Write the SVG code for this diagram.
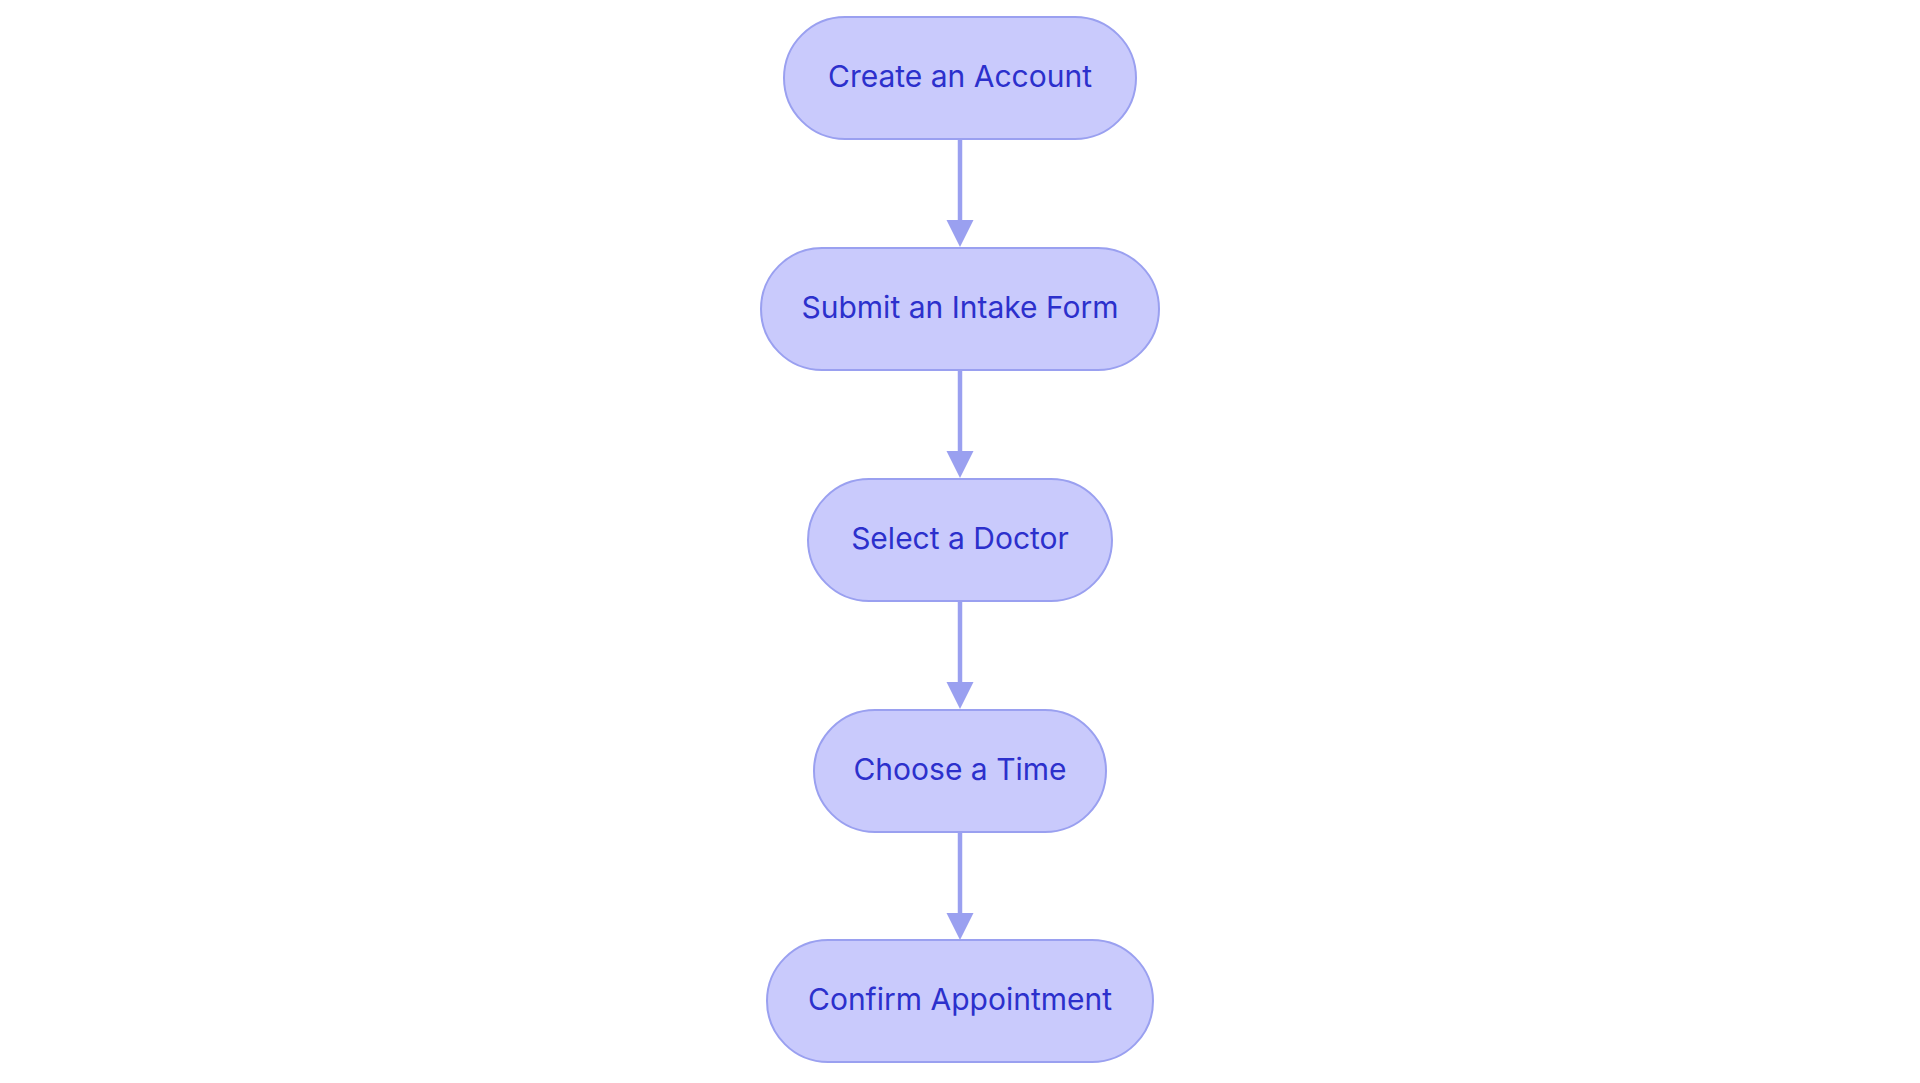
<svg xmlns="http://www.w3.org/2000/svg" width="1920" height="1083" viewBox="0 0 1920 1083">
<defs>
<style>
.node rect{fill:#c9cafc;stroke:#9aa0f0;stroke-width:2}
.node text{font-family:Inter,"Liberation Sans",sans-serif;font-size:30px;fill:#2c30cc;text-anchor:middle}
.edge line{stroke:#9aa0f0;stroke-width:4.5}
.edge polygon{fill:#9aa0f0}
</style>
</defs>
<rect width="1920" height="1083" fill="#ffffff"/>
<g id="connectors" class="edge">
<line x1="960" y1="139" x2="960" y2="222"/>
<polygon points="946.5,220 973.5,220 960,247"/>
<line x1="960" y1="370" x2="960" y2="453"/>
<polygon points="946.5,451 973.5,451 960,478"/>
<line x1="960" y1="601" x2="960" y2="684"/>
<polygon points="946.5,682 973.5,682 960,709"/>
<line x1="960" y1="832" x2="960" y2="915"/>
<polygon points="946.5,913 973.5,913 960,940"/>
</g>
<g id="node1" class="node">
<rect x="784" y="17" width="352" height="122" rx="61"/>
<text x="960" y="87">Create an Account</text>
</g>
<g id="node2" class="node">
<rect x="761" y="248" width="398" height="122" rx="61"/>
<text x="960" y="318">Submit an Intake Form</text>
</g>
<g id="node3" class="node">
<rect x="808" y="479" width="304" height="122" rx="61"/>
<text x="960" y="549">Select a Doctor</text>
</g>
<g id="node4" class="node">
<rect x="814" y="710" width="292" height="122" rx="61"/>
<text x="960" y="780">Choose a Time</text>
</g>
<g id="node5" class="node">
<rect x="767" y="940" width="386" height="122" rx="61"/>
<text x="960" y="1010">Confirm Appointment</text>
</g>
</svg>
